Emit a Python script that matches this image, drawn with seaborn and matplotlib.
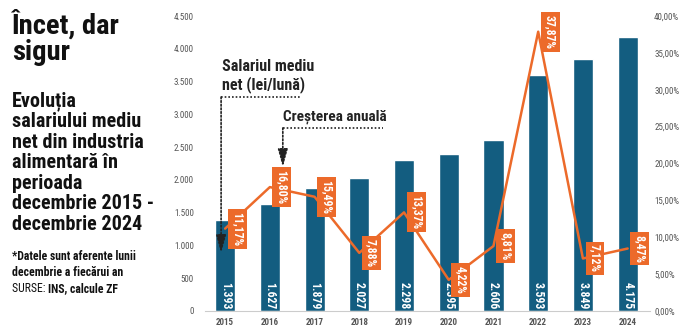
import matplotlib
matplotlib.use("Agg")
import matplotlib.pyplot as plt
from matplotlib import font_manager
from matplotlib.ticker import FuncFormatter, MultipleLocator
import seaborn as sns
import pandas as pd

years = ["2015", "2016", "2017", "2018", "2019", "2020", "2021", "2022", "2023", "2024"]
salary = [1393, 1627, 1879, 2027, 2298, 2395, 2606, 3593, 3849, 4175]
growth = [11.17, 16.80, 15.49, 7.88, 13.37, 4.22, 8.81, 37.87, 7.12, 8.47]

BLUE = "#135d80"
ORANGE = "#ec6a2a"
GRAY = "#555555"

names = {f.name for f in font_manager.fontManager.ttflist}
narrow = None
for cand in ["Liberation Sans Narrow", "Roboto Condensed", "Open Sans Condensed", "DejaVu Sans Condensed"]:
    if cand in names:
        narrow = cand
        break
if narrow is None:
    narrow = "Liberation Sans"

sns.set_theme(style="white")
plt.rcParams["font.family"] = [narrow, "DejaVu Sans"]

df = pd.DataFrame({"year": years, "salary": salary, "growth": growth})

fig = plt.figure(figsize=(6.98, 3.31), dpi=100)
ax = fig.add_axes([205 / 698, 1 - 311 / 331, (650 - 205) / 698, (311 - 16) / 331])
sns.barplot(data=df, x="year", y="salary", color=BLUE, width=0.45, ax=ax, saturation=1)
ax.set_xlim(-0.45, 9.5)
ax.set_ylim(0, 4500)
ax.yaxis.set_major_locator(MultipleLocator(500))
ax.yaxis.set_major_formatter(FuncFormatter(lambda v, p: f"{int(v):,}".replace(",", ".")))
ax.set_xlabel("")
ax.set_ylabel("")
for s in ["top", "right", "left"]:
    ax.spines[s].set_visible(False)
ax.spines["bottom"].set_color("#cccccc")
ax.spines["bottom"].set_linewidth(0.8)
ax.tick_params(axis="y", length=0, pad=8, labelsize=6.5, labelcolor=GRAY)
ax.tick_params(axis="x", length=0, pad=5, labelsize=6.5, labelcolor=GRAY)
for t in ax.get_xticklabels():
    t.set_fontweight("bold")

for i, v in enumerate(salary):
    ax.text(i, 230, f"{v:,}".replace(",", "."), rotation=-90, ha="center", va="center",
            color="white", fontweight="bold", fontsize=8.5)

ax2 = ax.twinx()
sns.lineplot(x=list(range(len(years))), y=growth, ax=ax2, color=ORANGE, linewidth=1.8)
ax2.set_ylim(0, 40)
ax2.set_xlim(-0.45, 9.5)
ax2.yaxis.set_major_locator(MultipleLocator(5))
ax2.yaxis.set_major_formatter(FuncFormatter(lambda v, p: f"{v:.2f}%".replace(".", ",")))
for s in ["top", "right", "left", "bottom"]:
    ax2.spines[s].set_visible(False)
ax2.tick_params(axis="y", length=0, pad=3, labelsize=6.5, labelcolor=GRAY)
ax2.grid(False)
ax.grid(False)

for i, g in enumerate(growth):
    ax2.text(i + 0.27, g, f"{g:.2f}%".replace(".", ","), rotation=-90, ha="center", va="center",
             color="white", fontweight="bold", fontsize=8.5,
             bbox=dict(boxstyle="square,pad=0.25", facecolor=ORANGE, edgecolor="none"))

# annotations
dot = dict(color="#222222", linewidth=1.2, linestyle=(0, (1, 1.2)))
ax.plot([-0.09, 1.67], [3264, 3264], **dot, clip_on=False)
ax.annotate("", xy=(-0.09, 885), xytext=(-0.09, 3264),
            arrowprops=dict(arrowstyle="-|>,head_width=0.25,head_length=0.9", color="#222222",
                            linestyle=(0, (1, 1.2)), linewidth=1.2, shrinkA=0, shrinkB=0))
ax.text(-0.08, 3330, "Salariul mediu\nnet (lei/lună)", ha="left", va="bottom",
        fontsize=11.5, fontweight="bold", color="#222222", linespacing=1.15)

ax.plot([1.29, 3.53], [2792, 2792], **dot, clip_on=False)
ax.annotate("", xy=(1.29, 2197), xytext=(1.29, 2792),
            arrowprops=dict(arrowstyle="-|>,head_width=0.25,head_length=0.9", color="#222222",
                            linestyle=(0, (1, 1.2)), linewidth=1.2, shrinkA=0, shrinkB=0))
ax.text(1.30, 2860, "Creșterea anuală", ha="left", va="bottom",
        fontsize=11, fontweight="bold", color="#222222")

# left panel
fig.text(12 / 698, 1 - 9 / 331, "Încet, dar\nsigur", ha="left", va="top", fontsize=20.5,
         fontweight="bold", color="#111111", linespacing=0.98)
fig.text(12 / 698, 1 - 91 / 331,
         "Evoluția\nsalariului mediu\nnet din industria\nalimentară în\nperioada\ndecembrie 2015 -\ndecembrie 2024",
         ha="left", va="top", fontsize=14.5, fontweight="bold", color="#111111", linespacing=1.1)
fig.text(12 / 698, 1 - 250 / 331, "*Datele sunt aferente lunii\ndecembrie a fiecărui an",
         ha="left", va="top", fontsize=8.5, fontweight="bold", color="#111111", linespacing=1.25)
t1 = fig.text(12 / 698, 1 - 282 / 331, "SURSE: ", ha="left", va="top", fontsize=8.5,
              color="#111111")
fig.canvas.draw()
bb = t1.get_window_extent()
fig.text(bb.x1 / fig.bbox.width, 1 - 282 / 331, "INS, calcule ZF", ha="left", va="top",
         fontsize=8.5, fontweight="bold", color="#111111")

fig.savefig("out.png", dpi=100)
